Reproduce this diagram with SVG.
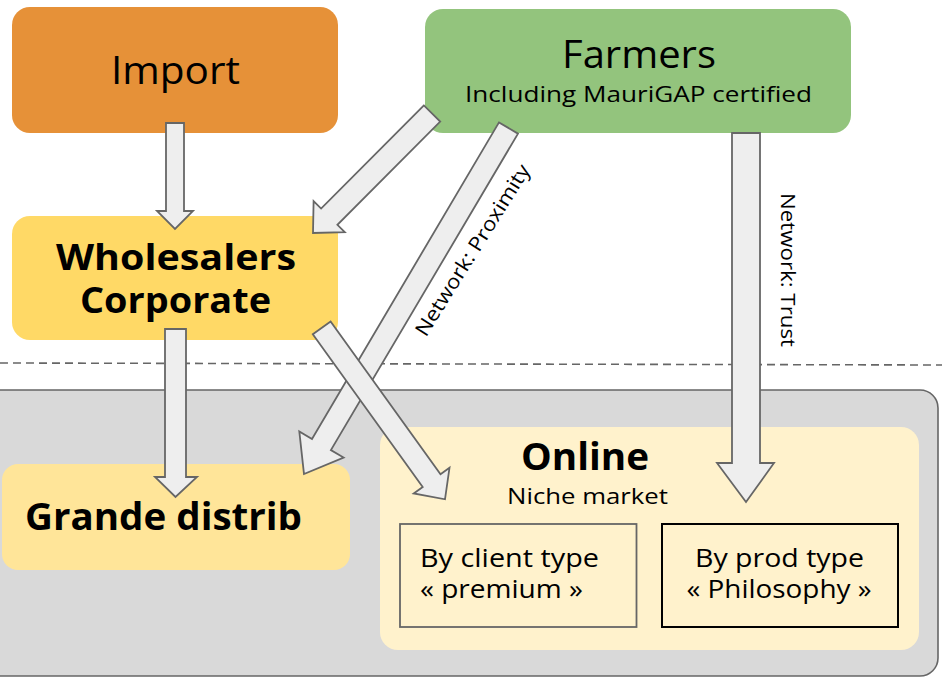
<svg xmlns="http://www.w3.org/2000/svg" width="942" height="677" viewBox="0 0 942 677">
<style>
text{font-family:"Open Sans","Liberation Sans",sans-serif;fill:#000}
.reg{font-weight:400}
.bold{font-weight:700}
.arrow{fill:#EEEEEE;stroke:#666666;stroke-width:1.8;stroke-linejoin:miter}
.box{stroke:none}
</style>
<rect width="942" height="677" fill="#FFFFFF"/>
<g id="separator">
<line x1="0" y1="363" x2="942" y2="365" stroke="#666666" stroke-width="1.6" stroke-dasharray="8 5"/>
</g>
<g id="local-market">
<rect x="-20" y="390" width="958" height="286" rx="18" fill="#D9D9D9" stroke="#666666" stroke-width="1.6"/>
</g>
<g id="import">
<rect class="box" x="12" y="7" width="326" height="126" rx="18" fill="#E69138"/>
<text class="reg" x="175.5" y="84" font-size="39" text-anchor="middle" textLength="129" lengthAdjust="spacingAndGlyphs">Import</text>
</g>
<g id="farmers">
<rect class="box" x="425" y="9" width="426" height="124" rx="18" fill="#93C47D"/>
<text class="reg" x="639" y="68" font-size="38" text-anchor="middle" textLength="154" lengthAdjust="spacingAndGlyphs">Farmers</text>
<text class="reg" x="638.5" y="102" font-size="22" text-anchor="middle" textLength="347" lengthAdjust="spacingAndGlyphs">Including MauriGAP certified</text>
</g>
<g id="wholesalers">
<rect class="box" x="12" y="216" width="326" height="124" rx="18" fill="#FFD966"/>
<text class="bold" x="176" y="270" font-size="35" text-anchor="middle" textLength="240" lengthAdjust="spacingAndGlyphs">Wholesalers</text>
<text class="bold" x="175.5" y="313" font-size="35" text-anchor="middle" textLength="191" lengthAdjust="spacingAndGlyphs">Corporate</text>
</g>
<g id="grande-distrib">
<rect class="box" x="2" y="464" width="348" height="106" rx="16" fill="#FFE599"/>
<text class="bold" x="25" y="530" font-size="37" textLength="277" lengthAdjust="spacingAndGlyphs">Grande distrib</text>
</g>
<g id="online">
<rect class="box" x="380" y="427" width="539" height="223" rx="18" fill="#FFF2CC"/>
<text class="bold" x="585" y="470" font-size="37" text-anchor="middle" textLength="128" lengthAdjust="spacingAndGlyphs">Online</text>
<text class="reg" x="587.5" y="504" font-size="22" text-anchor="middle" textLength="161" lengthAdjust="spacingAndGlyphs">Niche market</text>
</g>
<g id="by-client-type">
<rect x="400" y="524" width="236.5" height="103" fill="none" stroke="#666666" stroke-width="1.8"/>
<text class="reg" x="420" y="567" font-size="25" textLength="179" lengthAdjust="spacingAndGlyphs">By client type</text>
<text class="reg" x="420" y="598" font-size="25" textLength="163" lengthAdjust="spacingAndGlyphs">« premium »</text>
</g>
<g id="by-prod-type">
<rect x="662" y="524" width="236" height="103" fill="none" stroke="#000000" stroke-width="2"/>
<text class="reg" x="779.5" y="567" font-size="25" text-anchor="middle" textLength="169" lengthAdjust="spacingAndGlyphs">By prod type</text>
<text class="reg" x="779" y="598" font-size="25" text-anchor="middle" textLength="185" lengthAdjust="spacingAndGlyphs">« Philosophy »</text>
</g>
<g id="connectors">
<polygon class="arrow" points="166,123 184,123 184,211 193,211 175,229 157,211 166,211"/>
<polygon class="arrow" points="165,329 186,329 186,477 197,477 175.5,497 155,477 165,477"/>
<polygon class="arrow" points="732,133 760,133 760,463 774,463 746,502 717,463 732,463"/>
<polygon class="arrow" points="423.9,105.4 321.1,208.6 313.6,201.2 313,233 344.8,232.2 337.4,224.8 440.2,121.6"/>
<polygon class="arrow" points="499.0,122.4 312.0,438.9 299.3,431.4 304,474 343.6,457.6 330.9,450.1 518.0,133.6"/>
<polygon class="arrow" points="312.8,334.2 422.7,487.0 413.7,493.4 445,499.3 449.5,467.8 440.5,474.2 330.6,321.4"/>
<text class="reg" transform="translate(472.5,250) rotate(-58)" x="0" y="7" font-size="20" text-anchor="middle" textLength="198" lengthAdjust="spacingAndGlyphs">Network: Proximity</text>
<text class="reg" transform="translate(788,270) rotate(90)" x="0" y="7" font-size="20" text-anchor="middle" textLength="154" lengthAdjust="spacingAndGlyphs">Network: Trust</text>
</g>
</svg>
